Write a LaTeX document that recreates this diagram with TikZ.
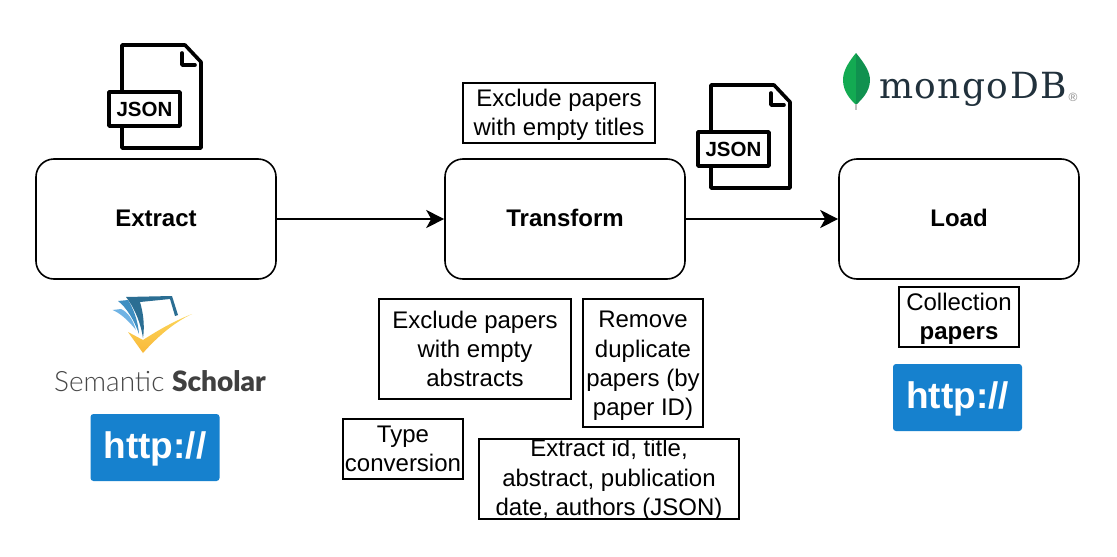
\documentclass[tikz,border=0pt]{standalone}
\usepackage{fontspec}
\setmainfont{Liberation Sans}
\newfontfamily\latofont{Lato Light}[BoldFont=Lato Black]
\newfontfamily\mongofont{DejaVu Serif}[LetterSpace=4]
\usetikzlibrary{arrows.meta}
\definecolor{httpblue}{HTML}{1681CE}
\definecolor{ssdark}{HTML}{2B6E93}
\definecolor{ssmid}{HTML}{3F8FC2}
\definecolor{sslight}{HTML}{6FB3E4}
\definecolor{ssgold}{HTML}{F9B93A}
\definecolor{ssyellow}{HTML}{FCD65A}
\definecolor{mongotxt}{HTML}{21313C}
\definecolor{mongoleaf}{HTML}{13AA52}
\definecolor{mongoleafd}{HTML}{10914F}
\newcommand{\topfill}[1]{\rule{0pt}{#1pt}}
\newcommand{\botfill}{\rule[-2pt]{0pt}{2pt}}
\tikzset{
  stage/.style={draw=black,line width=1.6pt,rounded corners=18pt,minimum width=240pt,minimum height=120pt,inner sep=0pt,font=\fontsize{24}{26}\selectfont\bfseries},
  note/.style={draw=black,line width=1.4pt,inner sep=0pt,align=center,font=\fontsize{24}{29.3}\selectfont},
  flow/.style={line width=1.6pt,-{Stealth[length=18pt,width=18pt,inset=5pt]}},
  badge/.style={fill=httpblue,rounded corners=3pt,minimum width=129pt,minimum height=67pt,inner sep=0pt,text=white,font=\fontsize{37}{40}\selectfont\bfseries},
  fileline/.style={line width=3.6pt,line join=round,line cap=round}
}
\newcommand{\jsonicon}[2]{%
  \begin{scope}[shift={(#1,#2)}]
    \draw[fileline] (122,92) -- (122,45) -- (185,45) -- (201,62) -- (201,148) -- (122,148) -- (122,126);
    \draw[fileline] (182,53) -- (182,65) -- (195,65);
    \draw[line width=3.6pt,line join=round] (109,92) rectangle (180,126);
    \node[inner sep=0pt,font=\fontsize{20.5}{20}\selectfont\bfseries] at (144.5,109.5) {JSON};
  \end{scope}}
\begin{document}
\begin{tikzpicture}[x=1pt,y=-1pt]
\useasboundingbox (0,0) rectangle (1117,557);
\fill[white] (0,0) rectangle (1117,557);
% stages
\node[stage] (extract) at (156,219) {Extract\botfill};
\node[stage] (transform) at (565,219) {Transform\botfill};
\node[stage] (load) at (959,219) {Load\botfill};
\draw[flow] (extract) -- (transform);
\draw[flow] (transform) -- (load);
% notes
\node[note,minimum width=192pt,minimum height=60pt] (n1) at (559,113) {\topfill{21.4}Exclude papers\\with empty titles};
\node[note,minimum width=192pt,minimum height=100pt] (n2) at (475,349) {Exclude papers\\with empty\\abstracts};
\node[note,minimum width=120pt,minimum height=128pt] (n3) at (643,363) {\topfill{22.5}Remove\\duplicate\\papers (by\\paper ID)};
\node[note,minimum width=120pt,minimum height=60pt] (n4) at (403,449) {Type\\conversion};
\node[note,minimum width=260pt,minimum height=80pt] (n5) at (609,479) {};
\node[note,draw=none] (n5text) at (609,479) {\topfill{19.4}Extract id, title,\\abstract, publication\\date, authors (JSON)};
\node[note,minimum width=120pt,minimum height=60pt] (n6) at (959,317) {\topfill{21.4}Collection\\\textbf{papers}};
% json icons
\jsonicon{0}{0}
\jsonicon{589}{40}
% semantic scholar logo
\fill[sslight] (112.5,310) .. controls (120,313) and (128,320) .. (136,330) .. controls (133,320) and (128,312) .. (121,309) -- cycle;
\fill[ssmid] (118,301) .. controls (127,308) and (134,320) .. (139,334) .. controls (138,320) and (133,308) .. (128,300) -- cycle;
\fill[ssdark] (126,297) .. controls (136,310) and (141,325) .. (143,338) .. controls (145,325) and (143,312) .. (140,302) -- (170,299) -- (175,316) -- (178,315) -- (172,296) -- cycle;
\shade[top color=ssyellow,bottom color=ssgold] (128,332) -- (143,353) .. controls (158,336) and (175,322) .. (192,314) .. controls (172,322) and (157,331) .. (143,340) -- cycle;
\node[inner sep=0pt,anchor=base west,text=black!72,font=\fontsize{28}{28}\selectfont\latofont] (sst) at (54,391.5) {Semantic \textbf{\textcolor{black!75}{Scholar}}};
% http badges
\node[badge] (h1) at (155,447.5) {\raisebox{-10.5pt}[0pt][0pt]{http://}};
\node[badge] (h2) at (957.5,397.5) {\raisebox{-10.5pt}[0pt][0pt]{http://}};
% mongodb logo
\fill[mongoleaf] (856,53) .. controls (846,65) and (843,73) .. (843,80) .. controls (843,92) and (851,100) .. (856,105) -- cycle;
\fill[mongoleafd] (856,53) .. controls (866,65) and (870,73) .. (870,80) .. controls (870,92) and (861,100) .. (856,105) -- cycle;
\fill[black!25] (855.3,104) rectangle (856.7,110);
\node[inner sep=0pt,anchor=base west,text=mongotxt,font=\fontsize{36}{44}\selectfont\mongofont] (mt) at (879,98.5) {mongoDB};
\node[inner sep=0pt,text=black!45,font=\fontsize{12}{12}\selectfont] (reg) at (1073,97) {®};
\end{tikzpicture}
\end{document}
